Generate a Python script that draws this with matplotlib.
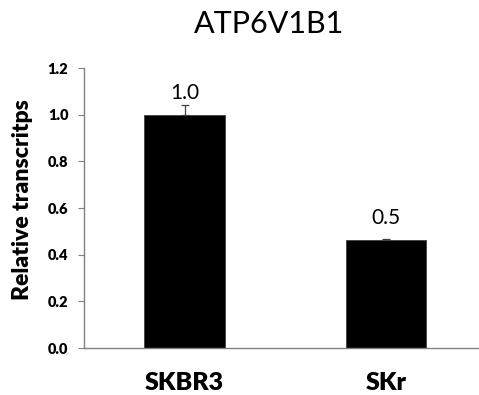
import matplotlib
matplotlib.use("Agg")
import matplotlib.pyplot as plt

categories = ["SKBR3", "SKr"]
values = [1.0, 0.463]
errors = [0.041, 0.006]
value_labels = ["1.0", "0.5"]
yticks = [0.0, 0.2, 0.4, 0.6, 0.8, 1.0, 1.2]
title = "ATP6V1B1"
ylabel = "Relative transcritps"

plt.rcParams['font.family'] = ['Lato', 'DejaVu Sans']

fig = plt.figure(figsize=(4.79, 3.95), dpi=100)
ax = fig.add_axes([84/479, 47/395, 395/479, 280/395])

pos = [0.5, 1.5]
gray = '#808080'
ax.bar(pos, values, width=0.4, color='black', edgecolor='#404040', linewidth=0.6, zorder=2)
ax.errorbar(pos, values, yerr=[[0, 0], errors], fmt='none', ecolor='#404040',
            elinewidth=0.9, capsize=3, capthick=0.9, zorder=3)
for p, v, t in zip(pos, values, value_labels):
    ax.annotate(t, (p, v), xytext=(0, 8.5), textcoords='offset points',
                ha='center', va='bottom', fontsize=15)

ax.set_xlim(0, 1.963)
ax.set_ylim(0, 1.2)
ax.set_yticks(yticks)
ax.set_yticklabels([f"{t:.1f}" for t in yticks], fontweight='heavy', fontsize=10.5)
ax.set_xticks(pos)
ax.set_xticklabels(categories, fontweight='heavy', fontsize=18)
ax.tick_params(axis='x', length=0, pad=17)
ax.tick_params(axis='y', length=4.3, width=0.8, color=gray, pad=7)

for s in ['top', 'right']:
    ax.spines[s].set_visible(False)
for s in ['left', 'bottom']:
    ax.spines[s].set_color(gray)
    ax.spines[s].set_linewidth(1.0)

ax.set_ylabel(ylabel, fontweight='heavy', fontsize=16.5)
ax.yaxis.set_label_coords(-0.129, 0.529)

fig.text(269/479, 1 - 24/395, title, ha='center', va='center', fontsize=22)

fig.savefig("out.png", dpi=100)
